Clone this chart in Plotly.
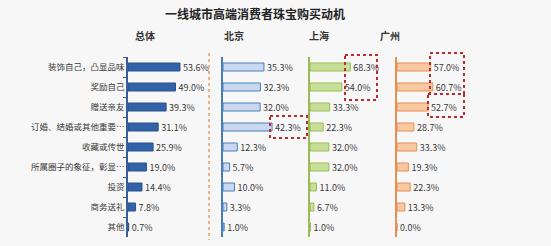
import plotly.graph_objects as go

W, H = 551, 246

title = "一线城市高端消费者珠宝购买动机"
categories = ["装饰自己，凸显品味", "奖励自己", "赠送亲友", "订婚、结婚或其他重要…",
              "收藏或传世", "所属圈子的象征，彰显…", "投资", "商务送礼", "其他"]
panel_names = ["总体", "北京", "上海", "广州"]
total = [53.6, 49.0, 39.3, 31.1, 25.9, 19.0, 14.4, 7.8, 0.7]
beijing = [35.3, 32.3, 32.0, 42.3, 12.3, 5.7, 10.0, 3.3, 1.0]
shanghai = [68.3, 54.0, 33.3, 22.3, 32.0, 32.0, 11.0, 6.7, 1.0]
guangzhou = [57.0, 60.7, 52.7, 28.7, 33.3, 19.3, 22.3, 13.3, 0.0]

def px(x):
    return x / W

def py(y):
    return 1 - y / H

series = [total, beijing, shanghai, guangzhou]
fills = ["#3262A8", "#C9D8EE", "#C8DF98", "#F9C7A0"]
borders = ["#2A528F", "#4A7EBB", "#9BBB59", "#E39058"]
axis_colors = ["#3A5F95", "#4A7EBB", "#9BBB59", "#E39058"]
# pixel domains and px-per-percent
x_doms = [(128, 208), (223, 300), (310, 392), (397, 479)]
scales = [0.97, 1.16, 0.59, 0.59]
header_x = [145, 234, 319, 390]

fig = go.Figure()
for i, vals in enumerate(series):
    ax = "" if i == 0 else str(i + 1)
    fig.add_trace(go.Bar(
        x=vals, y=categories, orientation="h",
        marker=dict(color=fills[i], line=dict(color=borders[i], width=1)),
        text=[f"{v:.1f}%" for v in vals], textposition="outside",
        constraintext="none",
        textfont=dict(size=9, color="#3A3A3A", family="Noto Sans CJK SC"),
        cliponaxis=False, xaxis="x" + ax, yaxis="y" + ax, showlegend=False,
    ))
    d0, d1 = x_doms[i]
    rng = (d1 - d0) / scales[i]
    fig.layout["xaxis" + ax] = dict(domain=[px(d0), px(d1)], range=[0, rng],
                                    visible=False, fixedrange=True,
                                    anchor="y" + ax)
    fig.layout["yaxis" + ax] = dict(
        domain=[py(237), py(57)], range=[8.5, -0.5], anchor="x" + ax,
        showline=True, linecolor=axis_colors[i], linewidth=1.5,
        showgrid=False, zeroline=False,
        showticklabels=(i == 0),
        ticks="outside" if i == 0 else "", ticklen=3, tickcolor="#555555",
        tickson="boundaries",
        tickfont=dict(size=8.5, color="#3A3A3A", family="Noto Sans CJK SC"),
    )

annotations = [dict(text="<b>" + title + "</b>", x=px(255), y=py(13), xref="paper", yref="paper",
                    xanchor="center", yanchor="middle", showarrow=False,
                    font=dict(size=12, color="#222222", family="Noto Sans CJK SC"))]
for name, hx in zip(panel_names, header_x):
    annotations.append(dict(text="<b>" + name + "</b>", x=px(hx), y=py(35), xref="paper", yref="paper",
                            xanchor="center", yanchor="middle", showarrow=False,
                            font=dict(size=10, color="#333333", family="Noto Sans CJK SC")))

red = "#C0282D"
shapes = [
    dict(type="line", xref="paper", yref="paper", x0=px(209), x1=px(209), y0=py(53), y1=py(240),
         line=dict(color="#F0B088", width=2, dash="dot")),
    dict(type="rect", xref="paper", yref="paper", x0=px(270), x1=px(307), y0=py(116), y1=py(138),
         line=dict(color=red, width=2, dash="dot")),
    dict(type="rect", xref="paper", yref="paper", x0=px(345), x1=px(377), y0=py(55), y1=py(100),
         line=dict(color=red, width=2, dash="dot")),
    dict(type="rect", xref="paper", yref="paper", x0=px(430), x1=px(464), y0=py(53), y1=py(94),
         line=dict(color=red, width=2, dash="dot")),
    dict(type="rect", xref="paper", yref="paper", x0=px(428), x1=px(464), y0=py(94), y1=py(117),
         line=dict(color=red, width=2, dash="dot")),
]

fig.update_layout(
    width=W, height=H, margin=dict(l=0, r=0, t=0, b=0),
    paper_bgcolor="#F7F7F7", plot_bgcolor="rgba(0,0,0,0)",
    bargap=0.6, annotations=annotations, shapes=shapes,
    font=dict(family="Noto Sans CJK SC"),
)
fig.write_html("out.html")
